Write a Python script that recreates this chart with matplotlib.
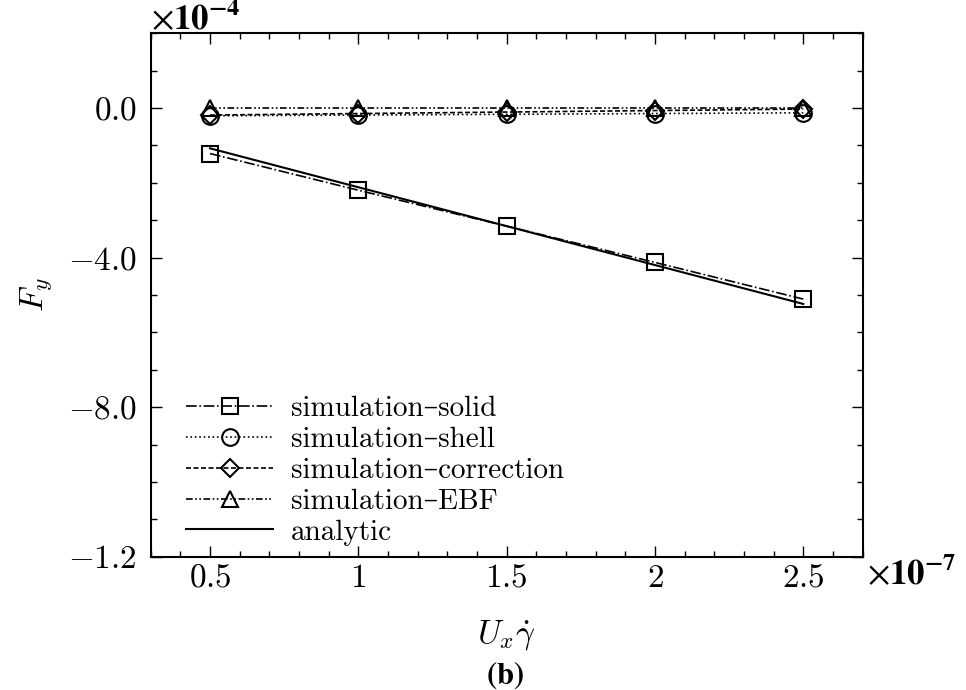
import numpy as np
import matplotlib
matplotlib.use('Agg')
import matplotlib.pyplot as plt
from matplotlib.ticker import MultipleLocator

# 字体：接近 LaTeX 的 Computer Modern
plt.rcParams['font.family'] = ['cmr10', 'DejaVu Serif']
plt.rcParams['mathtext.fontset'] = 'cm'
plt.rcParams['axes.unicode_minus'] = False
plt.rcParams['axes.formatter.use_mathtext'] = True

# 数据 (x in 1e-7, y in 1e-4)
shear = [0.5, 1.0, 1.5, 2.0, 2.5]
sim_solid = [-1.22, -2.20, -3.16, -4.13, -5.11]
sim_shell = [-0.21, -0.19, -0.17, -0.15, -0.13]
sim_correction = [-0.19, -0.15, -0.11, -0.07, -0.03]
sim_ebf = [0.0, 0.0, 0.0, 0.0, 0.0]
analytic = [-1.08, -2.12, -3.16, -4.20, -5.24]

y_ticks = [0, -4, -8, -12]
y_ticklabels = ['$0.0$', '$-4.0$', '$-8.0$', '$-1.2$']
x_ticks = [0.5, 1, 1.5, 2, 2.5]
x_ticklabels = ['$0.5$', '$1$', '$1.5$', '$2$', '$2.5$']

fig = plt.figure(figsize=(9.66, 6.9), dpi=100)
ax = fig.add_axes([0.156, 0.193, 0.737, 0.759])

ms = 12
lw = 1.2
ax.plot(shear, sim_solid, color='black', linestyle='-.', linewidth=lw,
        marker='s', markersize=ms, mfc='none', mew=1.5, label='simulation–solid')
ax.plot(shear, sim_shell, color='black', linestyle=':', linewidth=lw,
        marker='o', markersize=ms, mfc='none', mew=1.5, label='simulation–shell')
ax.plot(shear, sim_correction, color='black', linestyle=(0, (3, 1.5)), linewidth=lw,
        marker='D', markersize=ms * 0.75, mfc='none', mew=1.5, label='simulation–correction')
ax.plot(shear, sim_ebf, color='black', linestyle=(0, (4, 1.5, 1, 1.5, 1, 1.5)), linewidth=lw,
        marker='^', markersize=ms, mfc='none', mew=1.5, label='simulation–EBF')
ax.plot(shear, analytic, color='black', linestyle='-', linewidth=1.5, label='analytic')

ax.set_xlim(0.3, 2.7)
ax.set_ylim(-12, 2)
ax.set_xticks(x_ticks)
ax.set_xticklabels(x_ticklabels)
ax.set_yticks(y_ticks)
ax.set_yticklabels(y_ticklabels)
ax.xaxis.set_minor_locator(MultipleLocator(0.1))
ax.yaxis.set_minor_locator(MultipleLocator(1))
ax.tick_params(which='both', direction='in', top=True, right=True, labelsize=24)
ax.tick_params(axis='x', pad=5)
ax.tick_params(axis='y', pad=10)
ax.tick_params(which='major', length=8, width=1)
ax.tick_params(which='minor', length=4, width=1)
for s in ax.spines.values():
    s.set_linewidth(1.5)

ax.set_xlabel(r'$U_x\dot{\gamma}$', fontsize=24, labelpad=19)
ax.set_ylabel(r'$F_y$', fontsize=24, labelpad=10)

# 科学计数法标记
fig.text(0.156, 0.972, r'$\times\mathbf{10^{-4}}$', fontsize=25, ha='left', va='center',
         math_fontfamily='stix')
fig.text(0.898, 0.167, r'$\times\mathbf{10^{-7}}$', fontsize=25, ha='left', va='center',
         math_fontfamily='stix')
fig.text(0.523, 0.022, r'$\mathbf{(b)}$', fontsize=22, ha='center', va='center',
         math_fontfamily='stix')

ax.legend(loc='lower left', bbox_to_anchor=(0.025, -0.012), frameon=False, fontsize=21,
          handlelength=3.0, labelspacing=0.15, handletextpad=0.6, borderaxespad=0.2)

fig.savefig('out.png', dpi=100)
